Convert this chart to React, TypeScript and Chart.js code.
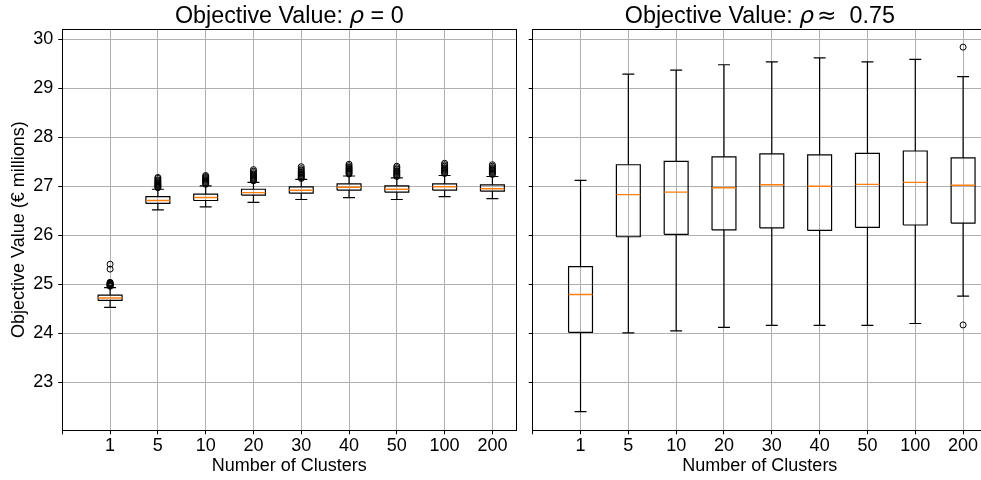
import React, { useEffect, useRef } from 'react';
import { Chart, registerables } from 'chart.js';

Chart.register(...registerables);

// ---------- data ----------
const positions = [1, 2, 3, 4, 5, 6, 7, 8, 9];
const clusterLabels = ['', '1', '5', '10', '20', '30', '40', '50', '100', '200'];
const yTicks = [23, 24, 25, 26, 27, 28, 29, 30];

// rho = 0
const lo0 = [24.53, 26.52, 26.58, 26.67, 26.73, 26.77, 26.73, 26.79, 26.75];
const q10 = [24.67, 26.65, 26.71, 26.82, 26.86, 26.92, 26.88, 26.92, 26.90];
const med0 = [24.72, 26.71, 26.77, 26.87, 26.92, 26.98, 26.94, 26.99, 26.95];
const q30 = [24.78, 26.79, 26.84, 26.94, 26.99, 27.05, 27.01, 27.05, 27.03];
const hi0 = [24.93, 26.94, 27.01, 27.08, 27.14, 27.21, 27.17, 27.22, 27.20];
const fliers0 = [
  [24.96, 24.97, 24.98, 24.99, 25.0, 25.01, 25.02, 25.03, 25.04, 25.31, 25.41],
  [26.97, 26.99, 27.0, 27.02, 27.03, 27.05, 27.07, 27.09, 27.11, 27.13, 27.16, 27.18],
  [27.04, 27.06, 27.08, 27.1, 27.12, 27.14, 27.16, 27.18, 27.2, 27.22],
  [27.11, 27.13, 27.15, 27.17, 27.19, 27.21, 27.23, 27.25, 27.28, 27.31, 27.34],
  [27.16, 27.18, 27.2, 27.22, 27.24, 27.26, 27.28, 27.3, 27.33, 27.36, 27.4],
  [27.25, 27.27, 27.29, 27.31, 27.33, 27.35, 27.37, 27.39, 27.42, 27.45],
  [27.2, 27.22, 27.24, 27.26, 27.28, 27.3, 27.32, 27.35, 27.38, 27.41],
  [27.26, 27.28, 27.3, 27.32, 27.34, 27.36, 27.38, 27.41, 27.44, 27.47],
  [27.24, 27.26, 27.28, 27.3, 27.32, 27.34, 27.36, 27.38, 27.41, 27.44],
];

// rho ≈ 0.75
const lo75 = [22.40, 24.01, 24.05, 24.12, 24.16, 24.16, 24.16, 24.20, 24.76];
const q175 = [24.02, 25.97, 26.02, 26.11, 26.15, 26.10, 26.16, 26.21, 26.25];
const med75 = [24.79, 26.83, 26.88, 26.97, 27.03, 27.00, 27.04, 27.08, 27.02];
const q375 = [25.36, 27.44, 27.51, 27.60, 27.66, 27.64, 27.67, 27.72, 27.58];
const hi75 = [27.12, 29.29, 29.37, 29.48, 29.54, 29.62, 29.54, 29.59, 29.24];
const fliers75 = [[], [], [], [], [], [], [], [], [24.17, 29.84]];

const titleLeftParts = ['Objective Value: ', 'ρ', ' = 0'];
const titleRightParts = ['Objective Value: ', 'ρ', '≈', '0.75'];
const xTitle = 'Number of Clusters';
const yTitle = 'Objective Value (€ millions)';

// ---------- styling ----------
const FAMILY = "'Liberation Sans', Arial, sans-serif";
const TICK_FONT = { family: FAMILY, size: 18 };
const LABEL_FONT = { family: FAMILY, size: 18 };
const TITLE_SIZE = 23.3;
const GRID = '#b0b0b0';

function buildDatasets(lo: number[], q1: number[], med: number[], q3: number[], hi: number[], fl: number[][]) {
  const gap = (x: number) => ({ x, y: NaN });
  const boxes: any[] = [];
  const whiskers: any[] = [];
  const caps: any[] = [];
  const medians: any[] = [];
  const fliers: any[] = [];
  positions.forEach((p, i) => {
    boxes.push({ x: p - 0.25, y: q1[i] }, { x: p + 0.25, y: q1[i] }, { x: p + 0.25, y: q3[i] }, { x: p - 0.25, y: q3[i] }, { x: p - 0.25, y: q1[i] }, gap(p));
    whiskers.push({ x: p, y: q1[i] }, { x: p, y: lo[i] }, gap(p), { x: p, y: q3[i] }, { x: p, y: hi[i] }, gap(p));
    caps.push({ x: p - 0.125, y: lo[i] }, { x: p + 0.125, y: lo[i] }, gap(p), { x: p - 0.125, y: hi[i] }, { x: p + 0.125, y: hi[i] }, gap(p));
    medians.push({ x: p - 0.25, y: med[i] }, { x: p + 0.25, y: med[i] }, gap(p));
    fl[i].forEach((v) => fliers.push({ x: p, y: v }));
  });
  const lineBase = { showLine: true, pointRadius: 0, pointHoverRadius: 0, spanGaps: false, tension: 0, borderWidth: 1.2, borderColor: '#000', fill: false };
  return [
    { label: 'fliers', data: fliers, showLine: false, pointRadius: 3, pointStyle: 'circle', pointBorderColor: '#000', pointBackgroundColor: 'rgba(0,0,0,0)', pointBorderWidth: 1, order: 0 },
    { ...lineBase, label: 'medians', data: medians, borderColor: '#ff7f0e', borderWidth: 1.4, order: 1 },
    { ...lineBase, label: 'boxes', data: boxes, order: 2 },
    { ...lineBase, label: 'caps', data: caps, order: 3 },
    { ...lineBase, label: 'whiskers', data: whiskers, order: 4 },
  ];
}

const titlePlugin = {
  id: 'mixedTitle',
  afterDraw(chart: any, _args: any, opts: any) {
    const ctx = chart.ctx;
    const segs = opts.segments as { text: string; font: string; padLeft?: number }[];
    ctx.save();
    let total = 0;
    const widths = segs.map((s) => {
      ctx.font = s.font;
      const w = ctx.measureText(s.text).width + (s.padLeft || 0);
      total += w;
      return w;
    });
    let x = chart.scales.x.getPixelForValue(opts.center) - total / 2;
    ctx.fillStyle = '#000';
    ctx.textBaseline = 'alphabetic';
    ctx.textAlign = 'left';
    segs.forEach((s, i) => {
      ctx.font = s.font;
      ctx.fillText(s.text, x + (s.padLeft || 0), opts.baseline);
      x += widths[i];
    });
    ctx.restore();
  },
};

const framePlugin = {
  id: 'frame',
  afterDatasetsDraw(chart: any) {
    const { ctx, chartArea } = chart;
    const { left, right, top, bottom } = chartArea;
    ctx.save();
    ctx.strokeStyle = '#000';
    ctx.lineWidth = 1;
    ctx.beginPath();
    const t = Math.round(top - 0.5) + 0.5;
    ctx.moveTo(left, t);
    ctx.lineTo(right, t);
    const r = Math.round(right - 0.5) + 0.5;
    ctx.moveTo(r, top);
    ctx.lineTo(r, bottom);
    ctx.stroke();
    ctx.restore();
  },
};

function makeConfig(side: 'left' | 'right') {
  const isLeft = side === 'left';
  const datasets = isLeft
    ? buildDatasets(lo0, q10, med0, q30, hi0, fliers0)
    : buildDatasets(lo75, q175, med75, q375, hi75, fliers75);
  const normal = `${TITLE_SIZE}px ${FAMILY}`;
  const italicRho = `italic ${TITLE_SIZE}px 'DejaVu Sans', sans-serif`;
  const math = `${TITLE_SIZE}px 'DejaVu Sans', sans-serif`;
  const segments = isLeft
    ? [
        { text: titleLeftParts[0], font: normal },
        { text: titleLeftParts[1], font: italicRho },
        { text: titleLeftParts[2], font: normal },
      ]
    : [
        { text: titleRightParts[0], font: normal },
        { text: titleRightParts[1], font: italicRho },
        { text: titleRightParts[2], font: math, padLeft: 3 },
        { text: titleRightParts[3], font: normal, padLeft: 13 },
      ];
  return {
    type: 'scatter' as const,
    data: { datasets },
    plugins: [titlePlugin, framePlugin],
    options: {
      animation: false,
      responsive: false,
      events: [],
      layout: { autoPadding: false, padding: { top: 29, right: isLeft ? 8.7 : 0, left: 0, bottom: 0 } },
      plugins: {
        legend: { display: false },
        tooltip: { enabled: false },
        title: { display: false },
        mixedTitle: { segments, center: 4.75, baseline: 22.7 },
      },
      scales: {
        x: {
          type: 'linear',
          min: 0,
          max: 9.5,
          afterBuildTicks: (s: any) => {
            s.ticks = clusterLabels.map((_, i) => ({ value: i }));
          },
          afterFit: (s: any) => {
            s.height = 49.7;
            s.paddingLeft = 0;
            s.paddingRight = 0;
          },
          ticks: {
            callback: (v: any) => clusterLabels[v] ?? '',
            font: TICK_FONT,
            color: '#000',
            padding: 1,
            maxRotation: 0,
            autoSkip: false,
          },
          grid: { color: GRID, lineWidth: 1, tickColor: '#000', tickLength: 4, tickWidth: 1 },
          border: { color: '#000', width: 1 },
          title: { display: true, text: xTitle, font: LABEL_FONT, color: '#000', padding: { top: 0, bottom: 3 } },
        },
        y: {
          type: 'linear',
          min: 22.02,
          max: 30.21,
          afterBuildTicks: (s: any) => {
            s.ticks = yTicks.map((v) => ({ value: v }));
          },
          afterFit: (s: any) => {
            s.width = isLeft ? 62.3 : 7.7;
            s.paddingTop = 0;
            s.paddingBottom = 0;
          },
          ticks: {
            callback: (v: any) => (isLeft ? String(v) : ''),
            font: TICK_FONT,
            color: '#000',
            padding: 5,
          },
          grid: { color: GRID, lineWidth: 1, tickColor: '#000', tickLength: 4, tickWidth: 1 },
          border: { color: '#000', width: 1 },
          title: { display: isLeft, text: yTitle, font: LABEL_FONT, color: '#000', padding: { top: 8.5, bottom: 0 } },
        },
      },
    },
  };
}

function Panel({ side, left, width }: { side: 'left' | 'right'; left: number; width: number }) {
  const ref = useRef<HTMLCanvasElement | null>(null);
  useEffect(() => {
    if (!ref.current) return;
    const chart = new Chart(ref.current, makeConfig(side) as any);
    return () => chart.destroy();
  }, [side]);
  return (
    <canvas
      ref={ref}
      width={width}
      height={480}
      style={{ position: 'absolute', left, top: 0, width, height: 480, display: 'block' }}
    />
  );
}

export default function App() {
  useEffect(() => {
    document.body.style.margin = '0';
    document.body.style.overflow = 'hidden';
    document.body.style.background = '#fff';
  }, []);
  return (
    <div style={{ position: 'relative', width: 981, height: 480, background: '#fff', overflow: 'hidden' }}>
      <Panel side="left" left={0} width={525} />
      <Panel side="right" left={525} width={462} />
    </div>
  );
}
